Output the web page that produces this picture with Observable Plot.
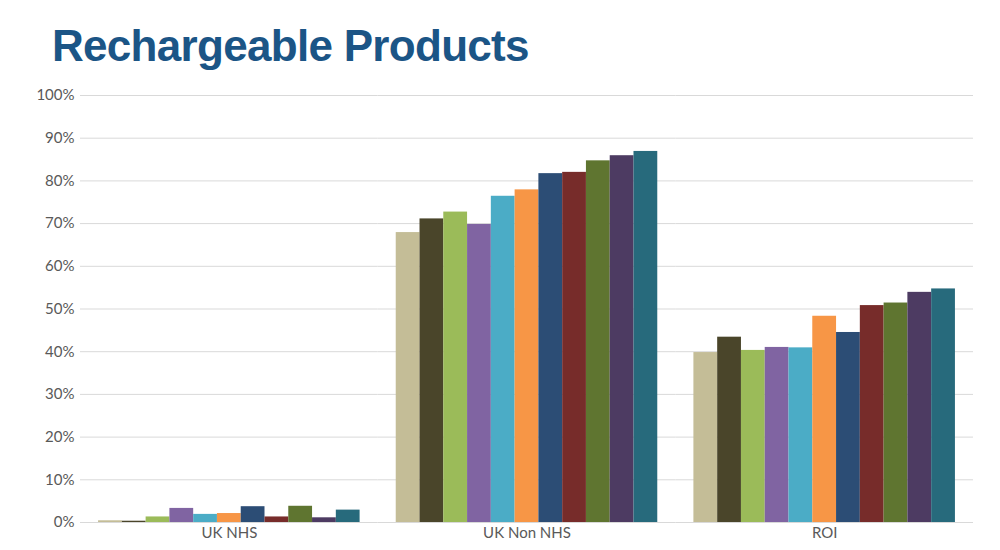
<!DOCTYPE html>
<html>
<head>
<meta charset="utf-8">
<script src="https://cdn.jsdelivr.net/npm/d3@7"></script>
<script src="https://cdn.jsdelivr.net/npm/@observablehq/plot@0.6"></script>
<style>
  html, body { margin: 0; padding: 0; background: #fff; }
  #wrap { position: relative; width: 1000px; height: 550px; overflow: hidden; }
  #title { position: absolute; left: 52px; top: 21px; margin: 0;
    font-family: "Liberation Sans", Arial, sans-serif; font-weight: bold;
    font-size: 44px; letter-spacing: -0.7px; color: #1b5586; line-height: normal; white-space: nowrap; }
  #chart { position: absolute; left: 0; top: 80px; }
</style>
</head>
<body>
<div id="wrap">
  <h1 id="title">Rechargeable Products</h1>
  <div id="chart"></div>
</div>
<script>
const groups = ["UK NHS", "UK Non NHS", "ROI"];
const series = ["S1", "S2", "S3", "S4", "S5", "S6", "S7", "S8", "S9", "S10", "S11"];
const ukNhs    = [0.4, 0.3, 1.3, 3.3, 1.9, 2.1, 3.7, 1.3, 3.8, 1.1, 2.9];
const ukNonNhs = [67.9, 71.1, 72.7, 69.8, 76.4, 77.9, 81.7, 82.0, 84.7, 85.9, 86.9];
const roi      = [39.8, 43.4, 40.3, 41.0, 40.9, 48.3, 44.5, 50.8, 51.4, 53.9, 54.7];
const yTicks = [0, 10, 20, 30, 40, 50, 60, 70, 80, 90, 100];
const colors = ["#c4bd97", "#4a452a", "#9bbb59", "#8064a2", "#4bacc6", "#f79646",
                "#2c4d75", "#772c2a", "#5f7530", "#4d3b62", "#276a7c"];

const valuesByGroup = [ukNhs, ukNonNhs, roi];
const data = [];
groups.forEach((g, gi) => {
  series.forEach((s, si) => {
    data.push({group: g, series: s, value: valuesByGroup[gi][si]});
  });
});

const chart = Plot.plot({
  width: 1000,
  height: 470,
  marginTop: 15,
  marginBottom: 28,
  marginLeft: 80,
  marginRight: 27,
  style: {fontFamily: "Lato, sans-serif", fontSize: "15px", color: "#595959", background: "#fff"},
  fx: {domain: groups, padding: 0, round: false, label: null, tickSize: 0, tickPadding: 5},
  x: {domain: series, axis: null, paddingInner: 0, paddingOuter: 0.76, round: false},
  y: {domain: [0, 100], ticks: yTicks, tickFormat: d => d + "%", tickSize: 0, tickPadding: 6, label: null},
  color: {domain: series, range: colors},
  marks: [
    Plot.ruleY(yTicks, {stroke: "#d9d9d9", strokeWidth: 1}),
    Plot.barY(data, {fx: "group", x: "series", y: "value", fill: "series"})
  ]
});
document.getElementById("chart").appendChild(chart);
</script>
</body>
</html>
